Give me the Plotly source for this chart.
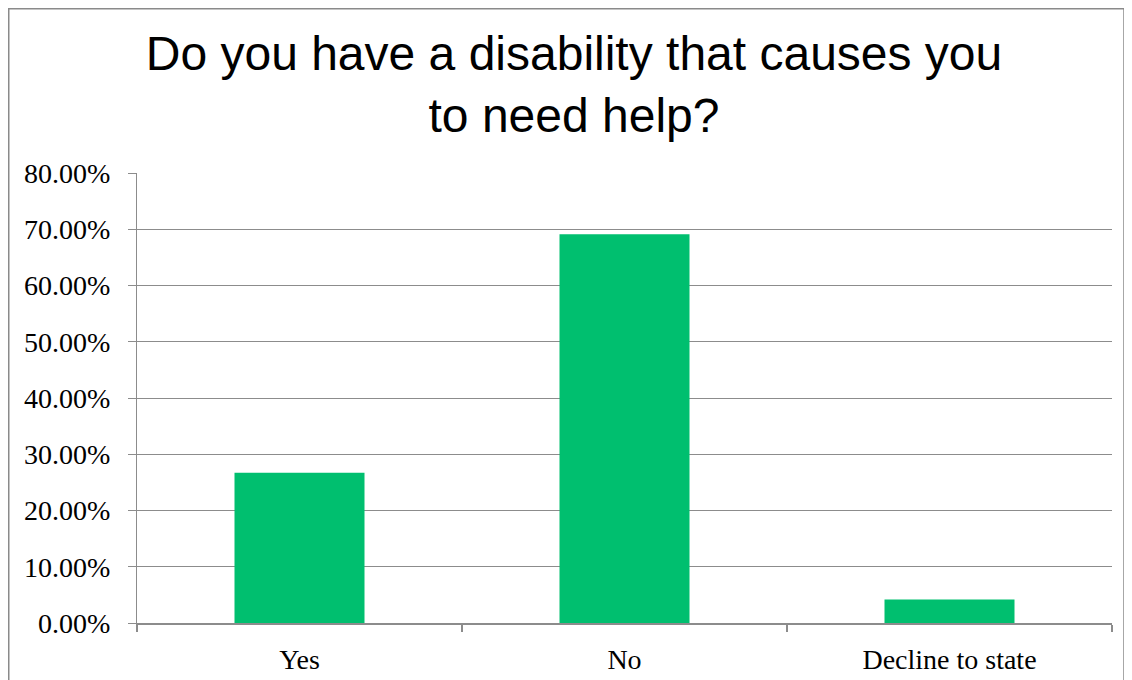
import plotly.graph_objects as go

# ---- data ----
categories = ["Yes", "No", "Decline to state"]
shares = [0.267, 0.691, 0.042]
y_tick_values = [0.0, 0.1, 0.2, 0.3, 0.4, 0.5, 0.6, 0.7, 0.8]
title_text = "Do you have a disability that causes you<br>to need help?"

# ---- layout geometry (figure pixels; page has an 8px body margin) ----
W, H = 1124, 672
L, R, T, B = 129, 1104, 165, 615
GRID = "#8c8c8c"
BAR = "#00BF6F"


def px(x):
    return (x - L) / (R - L)


def py(y):
    return (B - y) / (B - T)


fig = go.Figure(
    go.Bar(x=categories, y=shares, marker=dict(color=BAR, line=dict(width=0)),
           width=0.4, hoverinfo="x+y")
)

shapes = [
    dict(type="rect", xref="paper", yref="paper",
         x0=px(0.75), x1=px(1116), y0=py(700), y1=py(0.75),
         fillcolor="white", line=dict(color="#8a8a8a", width=1.5), layer="below"),
]

fig.update_layout(
    width=W, height=H, autosize=False,
    margin=dict(l=L, r=W - R, t=T, b=H - B, pad=0),
    paper_bgcolor="white", plot_bgcolor="rgba(0,0,0,0)",
    showlegend=False,
    shapes=shapes,
    title=dict(text=title_text, x=566 / W, xanchor="center", xref="container",
               y=1 - 62 / H, yanchor="top", yref="container",
               font=dict(family="Liberation Sans, Arial, sans-serif", size=48, color="black")),
)

fig.update_yaxes(
    range=[0, 0.8], tickvals=y_tick_values, tickformat=".2%",
    showgrid=True, gridcolor=GRID, gridwidth=1,
    showline=True, linecolor=GRID, linewidth=1,
    ticks="outside", ticklen=8, tickcolor=GRID, tickwidth=1,
    ticklabelstandoff=12, automargin=False,
    tickfont=dict(family="Liberation Serif, Times New Roman, serif", size=28, color="black"),
    zeroline=False, fixedrange=True,
)
fig.update_xaxes(
    showline=True, linecolor=GRID, linewidth=1.5,
    ticks="outside", ticklen=7, tickcolor=GRID, tickwidth=1.5,
    tickson="boundaries", showgrid=False,
    ticklabelstandoff=11, automargin=False,
    tickfont=dict(family="Liberation Serif, Times New Roman, serif", size=28, color="black"),
    fixedrange=True,
)

fig.write_html("out.html")
